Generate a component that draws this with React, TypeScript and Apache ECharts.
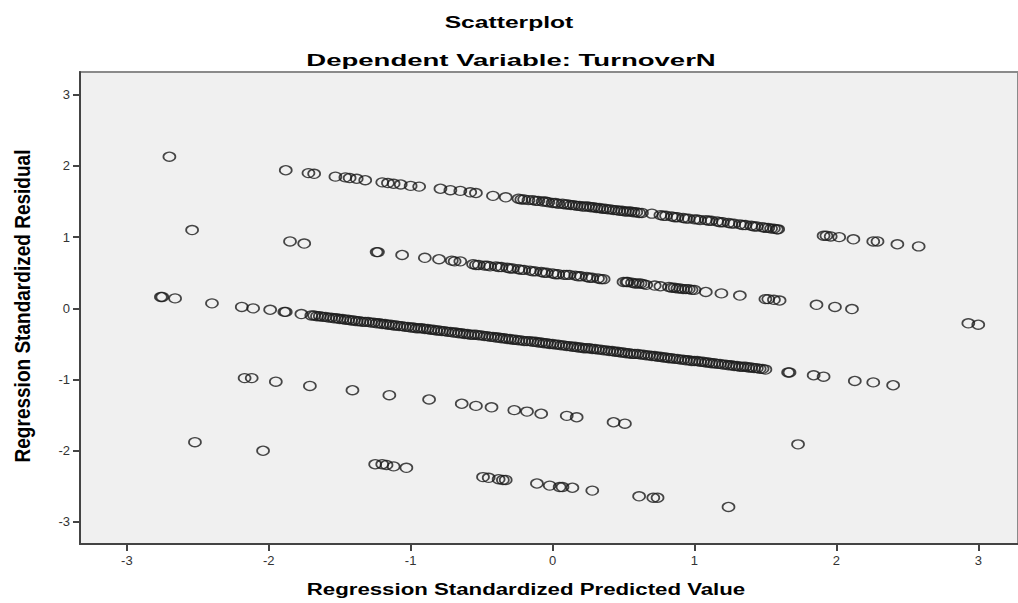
import React, { useEffect, useRef } from "react";
import * as echarts from "echarts";

const TITLE = "Scatterplot";
const SUBTITLE = "Dependent Variable: TurnoverN";
const X_NAME = "Regression Standardized Predicted Value";
const Y_NAME = "Regression Standardized Residual";
const TICKS = [-3, -2, -1, 0, 1, 2, 3];

// [standardized predicted value, standardized residual]
const band1: number[][] = [
  [-2.70, 2.13],
  [-1.88, 1.94], [-1.72, 1.90], [-1.68, 1.89], [-1.53, 1.85], [-1.46, 1.84], [-1.43, 1.83],
  [-1.38, 1.82], [-1.32, 1.80], [-1.20, 1.77], [-1.16, 1.76], [-1.12, 1.75], [-1.07, 1.74],
  [-1.00, 1.72], [-0.94, 1.71], [-0.79, 1.68], [-0.72, 1.66], [-0.65, 1.65], [-0.58, 1.63],
  [-0.54, 1.62], [-0.42, 1.58], [-0.33, 1.56],
  [-0.24, 1.54], [-0.20, 1.53], [-0.17, 1.52], [-0.14, 1.52], [-0.10, 1.51], [-0.07, 1.50],
  [-0.03, 1.49], [0.00, 1.48], [0.04, 1.47], [0.07, 1.47], [0.11, 1.46], [0.15, 1.45],
  [0.19, 1.44], [0.23, 1.43], [0.27, 1.42], [0.31, 1.41], [0.35, 1.40], [0.39, 1.39],
  [0.43, 1.38], [0.47, 1.37], [0.51, 1.36], [0.55, 1.36], [0.59, 1.35], [0.63, 1.34],
  [0.70, 1.33], [0.76, 1.31], [0.80, 1.30], [0.84, 1.29], [0.88, 1.28], [0.92, 1.27],
  [0.96, 1.26], [1.00, 1.25], [1.04, 1.24], [1.08, 1.24], [1.12, 1.23], [1.16, 1.22],
  [1.20, 1.21], [1.24, 1.20], [1.28, 1.19], [1.32, 1.18], [1.36, 1.17], [1.40, 1.16],
  [1.44, 1.15], [1.48, 1.14], [1.52, 1.13], [1.56, 1.12], [1.59, 1.11],
  [1.91, 1.02], [1.93, 1.02], [1.96, 1.01], [2.02, 1.00], [2.12, 0.97], [2.26, 0.94],
  [2.29, 0.94], [2.43, 0.90], [2.58, 0.87],
];

const band1Dense: number[][] = [
  [-0.22, 1.53], [-0.12, 1.51], [-0.05, 1.50], [0.02, 1.48], [0.09, 1.46], [0.13, 1.45],
  [0.17, 1.44], [0.21, 1.43], [0.25, 1.43], [0.29, 1.42], [0.33, 1.41], [0.37, 1.40],
  [0.41, 1.39], [0.45, 1.38], [0.49, 1.37], [0.53, 1.36], [0.57, 1.35], [0.61, 1.34],
  [0.78, 1.30], [0.86, 1.28], [0.94, 1.26], [1.02, 1.25], [1.10, 1.23], [1.18, 1.21],
  [1.26, 1.19], [1.34, 1.17], [1.42, 1.15], [1.50, 1.13], [1.54, 1.12], [1.58, 1.11],
];

const band2: number[][] = [
  [-2.54, 1.10], [-1.85, 0.94], [-1.75, 0.91], [-1.24, 0.79], [-1.23, 0.79], [-1.06, 0.75],
  [-0.90, 0.71], [-0.80, 0.69], [-0.71, 0.67], [-0.69, 0.66], [-0.65, 0.66],
  [-0.56, 0.62], [-0.52, 0.61], [-0.48, 0.60], [-0.44, 0.59], [-0.40, 0.59], [-0.36, 0.58],
  [-0.32, 0.57], [-0.28, 0.56], [-0.24, 0.55], [-0.20, 0.54], [-0.16, 0.53], [-0.12, 0.52],
  [-0.08, 0.51], [-0.04, 0.50], [0.00, 0.49], [0.04, 0.48], [0.08, 0.47], [0.12, 0.47],
  [0.16, 0.46], [0.20, 0.45], [0.24, 0.44], [0.28, 0.43], [0.32, 0.42], [0.36, 0.41],
  [0.50, 0.37], [0.53, 0.37], [0.56, 0.36], [0.60, 0.35], [0.64, 0.34], [0.66, 0.33],
  [0.72, 0.32], [0.76, 0.31], [0.82, 0.30], [0.84, 0.29], [0.88, 0.28], [0.92, 0.27],
  [0.96, 0.27], [1.00, 0.26], [1.08, 0.23], [1.19, 0.21], [1.32, 0.18], [1.50, 0.13],
  [1.52, 0.13], [1.56, 0.12], [1.60, 0.11], [1.86, 0.05], [1.99, 0.02], [2.11, -0.01],
  [2.93, -0.21], [3.00, -0.23],
];

const band2Dense: number[][] = [
  [-0.54, 0.61], [-0.46, 0.60], [-0.38, 0.58], [-0.30, 0.56], [-0.22, 0.54], [-0.14, 0.52],
  [-0.06, 0.50], [0.02, 0.48], [0.10, 0.47], [0.18, 0.45], [0.26, 0.43], [0.34, 0.41],
  [0.52, 0.37], [0.58, 0.35], [0.62, 0.35], [0.86, 0.29], [0.90, 0.28], [0.94, 0.27],
  [0.98, 0.26],
];

const band3: number[][] = [
  [-2.76, 0.16], [-2.75, 0.16], [-2.66, 0.14], [-2.40, 0.07], [-2.19, 0.02], [-2.11, 0.00],
  [-1.99, -0.02], [-1.89, -0.05], [-1.88, -0.05], [-1.77, -0.08],
  [-1.70, -0.10], [-1.66, -0.11], [-1.62, -0.12], [-1.58, -0.13], [-1.54, -0.14], [-1.50, -0.15],
  [-1.46, -0.16], [-1.42, -0.17], [-1.38, -0.18], [-1.34, -0.19], [-1.30, -0.19], [-1.26, -0.20],
  [-1.22, -0.21], [-1.18, -0.22], [-1.14, -0.23], [-1.10, -0.24], [-1.06, -0.25], [-1.02, -0.26],
  [-0.98, -0.27], [-0.94, -0.28], [-0.90, -0.29], [-0.86, -0.30], [-0.82, -0.31], [-0.78, -0.32],
  [-0.74, -0.33], [-0.70, -0.34], [-0.66, -0.35], [-0.62, -0.36], [-0.58, -0.37], [-0.54, -0.37],
  [-0.50, -0.38], [-0.46, -0.39], [-0.42, -0.40], [-0.38, -0.41], [-0.34, -0.42], [-0.30, -0.43],
  [-0.26, -0.44], [-0.22, -0.45], [-0.18, -0.46], [-0.14, -0.47], [-0.10, -0.48], [-0.06, -0.49],
  [-0.02, -0.50], [0.02, -0.51], [0.06, -0.52], [0.10, -0.53], [0.14, -0.54], [0.18, -0.55],
  [0.22, -0.56], [0.26, -0.56], [0.30, -0.57], [0.34, -0.58], [0.38, -0.59], [0.42, -0.60],
  [0.46, -0.61], [0.50, -0.62], [0.54, -0.63], [0.58, -0.64], [0.62, -0.65], [0.66, -0.66],
  [0.70, -0.67], [0.74, -0.68], [0.78, -0.69], [0.82, -0.70], [0.86, -0.71], [0.90, -0.72],
  [0.94, -0.73], [0.98, -0.74], [1.02, -0.74], [1.06, -0.75], [1.10, -0.76], [1.14, -0.77],
  [1.18, -0.78], [1.22, -0.79], [1.26, -0.80], [1.30, -0.81], [1.34, -0.82], [1.38, -0.83],
  [1.42, -0.84], [1.46, -0.85], [1.50, -0.86],
  [1.66, -0.90], [1.67, -0.90], [1.84, -0.94], [1.91, -0.96], [2.13, -1.02], [2.26, -1.04],
  [2.40, -1.08],
];

const band3Dense: number[][] = [
  [-1.68, -0.10], [-1.64, -0.11], [-1.60, -0.12], [-1.56, -0.13], [-1.52, -0.14], [-1.48, -0.15],
  [-1.44, -0.16], [-1.40, -0.17], [-1.36, -0.18], [-1.32, -0.19], [-1.28, -0.20], [-1.24, -0.21],
  [-1.20, -0.22], [-1.16, -0.23], [-1.12, -0.24], [-1.08, -0.25], [-1.04, -0.26], [-1.00, -0.27],
  [-0.96, -0.28], [-0.92, -0.28], [-0.88, -0.29], [-0.84, -0.30], [-0.80, -0.31], [-0.76, -0.32],
  [-0.72, -0.33], [-0.68, -0.34], [-0.64, -0.35], [-0.60, -0.36], [-0.56, -0.37], [-0.52, -0.38],
  [-0.48, -0.39], [-0.44, -0.40], [-0.40, -0.41], [-0.36, -0.42], [-0.32, -0.43], [-0.28, -0.44],
  [-0.24, -0.45], [-0.20, -0.46], [-0.16, -0.46], [-0.12, -0.47], [-0.08, -0.48], [-0.04, -0.49],
  [0.00, -0.50], [0.04, -0.51], [0.08, -0.52], [0.12, -0.53], [0.16, -0.54], [0.20, -0.55],
  [0.24, -0.56], [0.28, -0.57], [0.32, -0.58], [0.36, -0.59], [0.40, -0.60], [0.44, -0.61],
  [0.48, -0.62], [0.52, -0.63], [0.56, -0.64], [0.60, -0.64], [0.64, -0.65], [0.68, -0.66],
  [0.72, -0.67], [0.76, -0.68], [0.80, -0.69], [0.84, -0.70], [0.88, -0.71], [0.92, -0.72],
  [0.96, -0.73], [1.00, -0.74], [1.04, -0.75], [1.08, -0.76], [1.12, -0.77], [1.16, -0.78],
  [1.20, -0.79], [1.24, -0.80], [1.28, -0.81], [1.32, -0.82], [1.36, -0.82], [1.40, -0.83],
  [1.44, -0.84], [1.48, -0.85],
];

const band4: number[][] = [
  [-2.17, -0.98], [-2.12, -0.98], [-1.95, -1.03], [-1.71, -1.09], [-1.41, -1.15], [-1.15, -1.22],
  [-0.87, -1.28], [-0.64, -1.34], [-0.54, -1.37], [-0.43, -1.39], [-0.27, -1.43], [-0.18, -1.45],
  [-0.08, -1.48], [0.10, -1.51], [0.17, -1.53], [0.43, -1.60], [0.51, -1.62],
];

const band5: number[][] = [
  [-2.52, -1.88], [-2.04, -2.00], [1.73, -1.91],
];

const band6: number[][] = [
  [-1.25, -2.19], [-1.20, -2.19], [-1.17, -2.20], [-1.12, -2.22], [-1.03, -2.24],
  [-0.49, -2.37], [-0.45, -2.38], [-0.38, -2.40], [-0.35, -2.41], [-0.33, -2.41],
  [-0.11, -2.46], [-0.02, -2.49], [0.05, -2.51], [0.07, -2.51], [0.14, -2.52], [0.28, -2.56],
  [0.61, -2.64], [0.71, -2.66], [0.74, -2.66], [1.24, -2.79],
];

const FONT = '"Liberation Sans", Arial, sans-serif';

export default function App() {
  const ref = useRef<HTMLDivElement>(null);
  useEffect(() => {
    document.body.style.margin = "0";
    if (!ref.current) return;
    const chart = echarts.init(ref.current, null, { renderer: "svg" });
    const points = [
      ...band1, ...band1Dense, ...band2, ...band2Dense, ...band3, ...band3Dense,
      ...band4, ...band5, ...band6,
    ];
    chart.setOption({
      animation: false,
      backgroundColor: "#ffffff",
      grid: {
        left: 80,
        top: 72,
        right: 0,
        bottom: 59,
        show: true,
        backgroundColor: "#f0f0f0",
        borderColor: "#8a8a8a",
        borderWidth: 2,
      },
      xAxis: {
        type: "value",
        min: -3.33,
        max: 3.28,
        splitLine: { show: false },
        axisLine: { show: true, onZero: false, lineStyle: { color: "#444", width: 2 } },
        axisTick: { show: true, length: 7, customValues: TICKS, lineStyle: { color: "#444", width: 2 } },
        axisLabel: {
          customValues: TICKS,
          margin: 10,
          fontSize: 13,
          color: "#333",
          fontFamily: FONT,
        },
      },
      yAxis: {
        type: "value",
        min: -3.31,
        max: 3.32,
        splitLine: { show: false },
        axisLine: { show: true, onZero: false, lineStyle: { color: "#444", width: 2 } },
        axisTick: { show: true, length: 7, customValues: TICKS, lineStyle: { color: "#444", width: 2 } },
        axisLabel: {
          customValues: TICKS,
          margin: 10,
          fontSize: 13,
          color: "#333",
          fontFamily: FONT,
        },
      },
      graphic: [
        {
          type: "text",
          x: 509,
          y: 22,
          scaleX: 1.45,
          style: {
            text: TITLE,
            font: `bold 17px ${FONT}`,
            fill: "#000",
            align: "center",
            verticalAlign: "middle",
            textAlign: "center",
            textVerticalAlign: "middle",
          },
        },
        {
          type: "text",
          x: 511,
          y: 60,
          scaleX: 1.62,
          style: {
            text: SUBTITLE,
            font: `bold 17px ${FONT}`,
            fill: "#000",
            align: "center",
            verticalAlign: "middle",
            textAlign: "center",
            textVerticalAlign: "middle",
          },
        },
        {
          type: "text",
          x: 526,
          y: 589,
          scaleX: 1.39,
          style: {
            text: X_NAME,
            font: `bold 16px ${FONT}`,
            fill: "#000",
            align: "center",
            verticalAlign: "middle",
            textAlign: "center",
            textVerticalAlign: "middle",
          },
        },
        {
          type: "text",
          x: 22,
          y: 306,
          rotation: Math.PI / 2,
          scaleX: 1.12,
          scaleY: 1.3,
          style: {
            text: Y_NAME,
            font: `bold 17px ${FONT}`,
            fill: "#000",
            align: "center",
            verticalAlign: "middle",
            textAlign: "center",
            textVerticalAlign: "middle",
          },
        },
      ],
      series: [
        {
          type: "scatter",
          data: points,
          symbol: "circle",
          symbolSize: [12, 9],
          itemStyle: {
            color: "rgba(0,0,0,0)",
            borderColor: "#1a1a1a",
            borderWidth: 1.5,
          },
          emphasis: { disabled: true },
          silent: true,
        },
      ],
    });
    return () => chart.dispose();
  }, []);
  return <div ref={ref} style={{ width: 1018, height: 603 }} />;
}
